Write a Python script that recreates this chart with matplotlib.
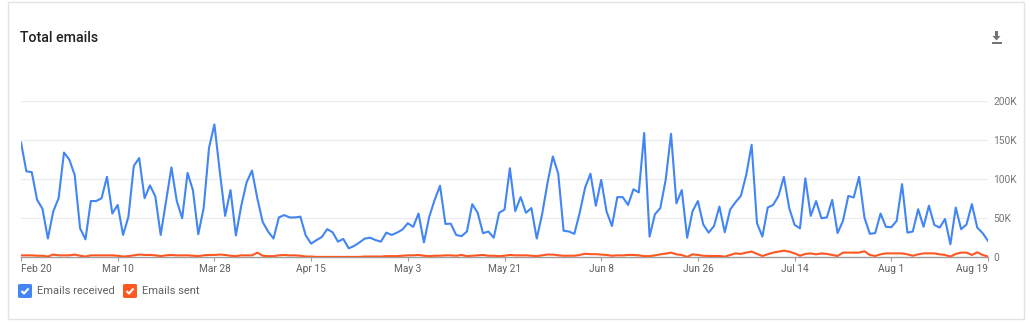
import numpy as np
import matplotlib
matplotlib.use("Agg")
import matplotlib.pyplot as plt
from matplotlib.patches import FancyBboxPatch, Polygon, Rectangle
from matplotlib.lines import Line2D

# ---------------- data ----------------
start_date = "2019-02-20"
end_date = "2019-08-20"  # exclusive
tick_labels = ["Feb 20", "Mar 10", "Mar 28", "Apr 15", "May 3", "May 21",
               "Jun 8", "Jun 26", "Jul 14", "Aug 1", "Aug 19"]
y_ticks = [0, 50000, 100000, 150000, 200000]
y_tick_labels = ["0", "50K", "100K", "150K", "200K"]

received_k = [
    147, 110, 109, 73.5, 62, 24, 58.5, 75.6, 134, 125,
    105, 37, 23, 72, 72, 75.6, 103, 56, 67, 28.6,
    52, 117, 127, 75.6, 92, 78, 28.6, 72, 115, 72,
    50, 108, 86, 29.5, 63, 140, 170, 110, 53, 86,
    28, 66, 96, 111, 75, 45, 33, 24, 51, 54,
    51, 51, 52, 28, 17.5, 22, 26, 36, 32, 20,
    23.5, 11.5, 14.5, 19, 24, 25, 22, 20, 31.6, 28.6,
    31.6, 35.5, 43.6, 39, 56, 19, 52, 73.5, 91.5, 42.7,
    43, 28.6, 27, 33, 68, 57, 30.8, 33, 25, 57,
    61, 114, 59, 77, 57, 63, 24, 55, 95, 129,
    107, 34, 33, 30, 57, 89, 107, 66, 99, 58.5,
    40, 77, 77, 67, 87, 83, 159, 26.5, 55, 63,
    99, 158, 69, 86, 25, 59, 72, 42, 31.6, 40,
    65, 32, 61, 70.5, 78.6, 105.6, 144, 43.6, 26.5, 63.7,
    67, 78.6, 103, 63, 41.5, 37, 101, 53, 72, 50,
    51, 73.5, 31, 46.6, 78.6, 76.5, 103, 51, 30, 31,
    56, 39, 38.5, 46.6, 93.6, 31.6, 33, 61.5, 39, 66,
    41.5, 38, 49, 16.7, 63.7, 36, 42, 68, 38, 31,
    21,
]

sent_k = [
    2.5, 2.5, 2.5, 2, 2, 1, 3.5, 2.5, 2.5, 2.5,
    3.5, 2, 1, 2.5, 2.5, 2.5, 2.5, 2.5, 2, 1,
    1.5, 2.5, 3.5, 3, 3, 2.5, 1.5, 2.5, 3, 2.5,
    2.5, 2.5, 2, 1.5, 2.5, 3, 3, 3.5, 3, 2,
    1.5, 2.5, 2.5, 2.5, 6, 2, 1.5, 1.5, 2.5, 3,
    2.5, 2.5, 2, 1, 1, 0.5, 0.5, 0.5, 0.5, 0.5,
    0.5, 0.5, 0.5, 0.5, 1, 1, 1, 1, 1.5, 1.5,
    1.5, 2, 2.5, 2.5, 3, 2, 1.5, 2, 2, 2.5,
    2.5, 2, 3, 1.5, 2, 2.5, 3, 2, 2, 1.5,
    2, 3, 2.5, 2.5, 2.5, 2, 1.5, 2.5, 3.5, 3.5,
    2.5, 2, 2, 2, 3, 4.5, 4, 4, 3.5, 3,
    2, 2.5, 2.5, 3, 3, 2.5, 1.5, 1.5, 2.5, 3.8,
    4.7, 6, 3.8, 3, 0.5, 3.8, 3, 2, 1.7, 1.7,
    1.7, 0.9, 3, 5, 4.3, 6, 7.3, 4.3, 1.7, 3.8,
    6, 7.3, 8.5, 7.3, 5, 2, 4.3, 5, 3.8, 5,
    4.3, 3, 1.7, 6, 6, 6, 6, 7.7, 3, 1.7,
    3.8, 5, 5, 5, 5, 3.8, 2, 3.8, 5, 5,
    5, 3.8, 3, 0.9, 4.3, 6, 6, 3, 6.4, 3,
    0.9,
]

# ---------------- figure ----------------
W, H = 1030, 322
fig = plt.figure(figsize=(W / 100, H / 100), dpi=100)
fig.patch.set_facecolor("white")

def fx(px):
    return px / W

def fy(py):
    return 1 - py / H

# card border (outline only)
card = Rectangle((fx(8), fy(319)), fx(1024) - fx(8), fy(2) - fy(319),
                 transform=fig.transFigure, facecolor="none",
                 edgecolor="#e3e3e3", linewidth=1.0, zorder=-5)
fig.patches.append(card)

dates = np.arange(start_date, end_date, dtype="datetime64[D]")
received = np.array(received_k) * 1000
sent = np.array(sent_k) * 1000

left, right = 21, 988
y0, ytop = 257.3, 101
ax = fig.add_axes([fx(left), fy(y0), fx(right) - fx(left), (y0 - ytop) / H])
ax.set_facecolor("none")
ax.set_zorder(2)

ax.plot(dates, received, color="#4285F4", linewidth=1.5, zorder=3,
        solid_joinstyle="round")
ax.plot(dates, sent, color="#FF5722", linewidth=1.5, zorder=4,
        solid_joinstyle="round")

ax.set_xlim(dates[0], dates[-1])
ax.set_ylim(0, 200000)

for s in ["top", "left", "right"]:
    ax.spines[s].set_visible(False)
ax.spines["bottom"].set_color("#9e9e9e")
ax.spines["bottom"].set_linewidth(1.0)

ax.yaxis.tick_right()
ax.set_yticks(y_ticks)
ax.set_yticklabels(y_tick_labels)
ax.tick_params(axis="y", length=0, pad=4, labelsize=7.3, labelcolor="#757575")
ax.grid(axis="y", color="#ebebeb", linewidth=0.8, zorder=0)
ax.set_axisbelow(True)

tick_dates = dates[::18]
ax.set_xticks(tick_dates)
ax.set_xticklabels(tick_labels)
ax.tick_params(axis="x", length=3, width=0.8, color="#9e9e9e", pad=2,
               labelsize=7.3, labelcolor="#616161")
xt = ax.get_xticklabels()
xt[0].set_horizontalalignment("left")
xt[-1].set_horizontalalignment("right")

for lbl in ax.get_xticklabels() + ax.get_yticklabels():
    lbl.set_fontfamily("Roboto")

# title
fig.text(fx(20), fy(38), "Total emails", fontsize=10.2, fontweight="medium",
         color="#212121", family="Roboto", va="center", ha="left")

# download icon
icon_color = "#757575"
cx, cy = 996.5, 37
fig.patches.append(Rectangle((fx(cx - 1.3), fy(cy - 0.5)), fx(2.6), fy(cy - 6) - fy(cy - 0.5),
                             transform=fig.transFigure, facecolor=icon_color,
                             edgecolor="none"))
fig.patches.append(Polygon([(fx(cx - 4), fy(cy - 1)), (fx(cx + 4), fy(cy - 1)),
                            (fx(cx), fy(cy + 3.5))], closed=True,
                           transform=fig.transFigure, facecolor=icon_color,
                           edgecolor="none"))
fig.patches.append(Rectangle((fx(cx - 5), fy(cy + 6.5)), fx(10), fy(cy + 5) - fy(cy + 6.5),
                             transform=fig.transFigure, facecolor=icon_color,
                             edgecolor="none"))

# legend with checkboxes
def checkbox(x, y, color, label):
    size = 14
    box = FancyBboxPatch((fx(x), fy(y + size)), fx(size), fy(y) - fy(y + size),
                         boxstyle="round,pad=0,rounding_size=0.003",
                         transform=fig.transFigure, facecolor=color,
                         edgecolor="none")
    fig.patches.append(box)
    fig.lines.append(Line2D([fx(x + 3.5), fx(x + 6), fx(x + 10.5)],
                            [fy(y + 7), fy(y + 9.5), fy(y + 4.5)],
                            transform=fig.transFigure, color="white",
                            linewidth=1.5, solid_capstyle="butt"))
    fig.text(fx(x + 19), fy(y + 7.3), label, fontsize=8, color="#616161",
             family="Roboto", va="center", ha="left")

checkbox(18, 284, "#4285F4", "Emails received")
checkbox(123, 284, "#FF5722", "Emails sent")

fig.savefig("out.png", dpi=100, facecolor="white")
